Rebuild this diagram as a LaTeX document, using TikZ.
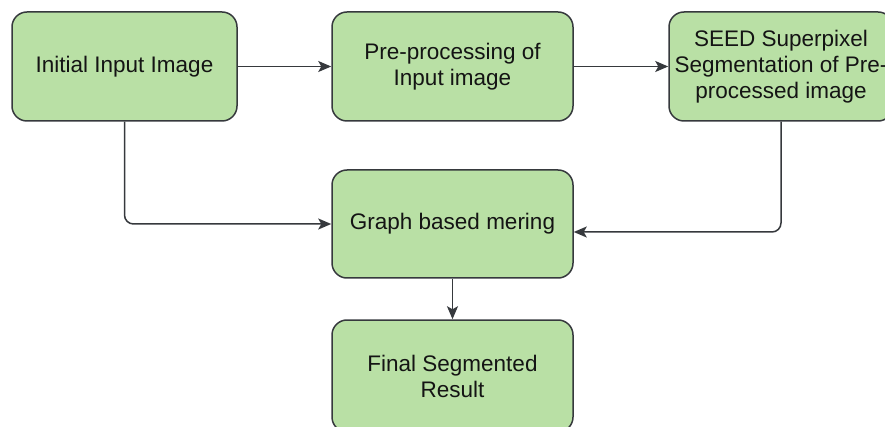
\documentclass[tikz,border=0pt]{standalone}
\usepackage{fontspec}
\setmainfont{Liberation Sans}
\usepackage{xcolor}
\usepackage{tikz}
\usetikzlibrary{positioning, arrows.meta}
\definecolor{boxFill}{HTML}{B9E0A5}
\definecolor{boxLine}{HTML}{36393D}
\definecolor{textDark}{HTML}{141414}
\tikzstyle{stepBox}=[draw=boxLine, fill=boxFill, rounded corners=15pt, line width=1.5pt, minimum height=109pt, inner sep=0pt, align=center, text=textDark, font=\fontsize{22.5}{26}\selectfont]
\tikzstyle{flowArrow}=[-{Stealth[length=13pt,width=11pt,inset=3pt]}, line width=1.5pt, draw=boxLine, rounded corners=9pt]

\begin{document}
\begin{tikzpicture}[x=1pt, y=-1pt]
  \useasboundingbox (0,0) rectangle (885,427);
  \clip (0,0) rectangle (885,427);

  % top row
  \node[stepBox, minimum width=225pt] (init) at (124.5, 66.5) {Initial Input Image};
  \node[stepBox, minimum width=241pt] (prep) at (452.5, 66.5) {Pre-processing of\\Input image};
  \node[stepBox, minimum width=224pt] (seed) at (781, 66.5) {SEED Superpixel\\Segmentation of Pre-\\processed image};

  % merging and result
  \node[stepBox, minimum width=241pt, minimum height=108pt] (graph) at (452.5, 224) {Graph based mering};
  \node[stepBox, minimum width=241pt, minimum height=112pt] (final) at (452.5, 376) {Final Segmented\\Result};

  \draw[flowArrow] (init) -- (prep);
  \draw[flowArrow] (prep) -- (seed);
  \draw[flowArrow] (init.south) |- (graph.west);
  \draw[flowArrow] (seed.south) |- ([yshift=-8pt]graph.east);
  \draw[flowArrow] (graph) -- (final);
\end{tikzpicture}
\end{document}
